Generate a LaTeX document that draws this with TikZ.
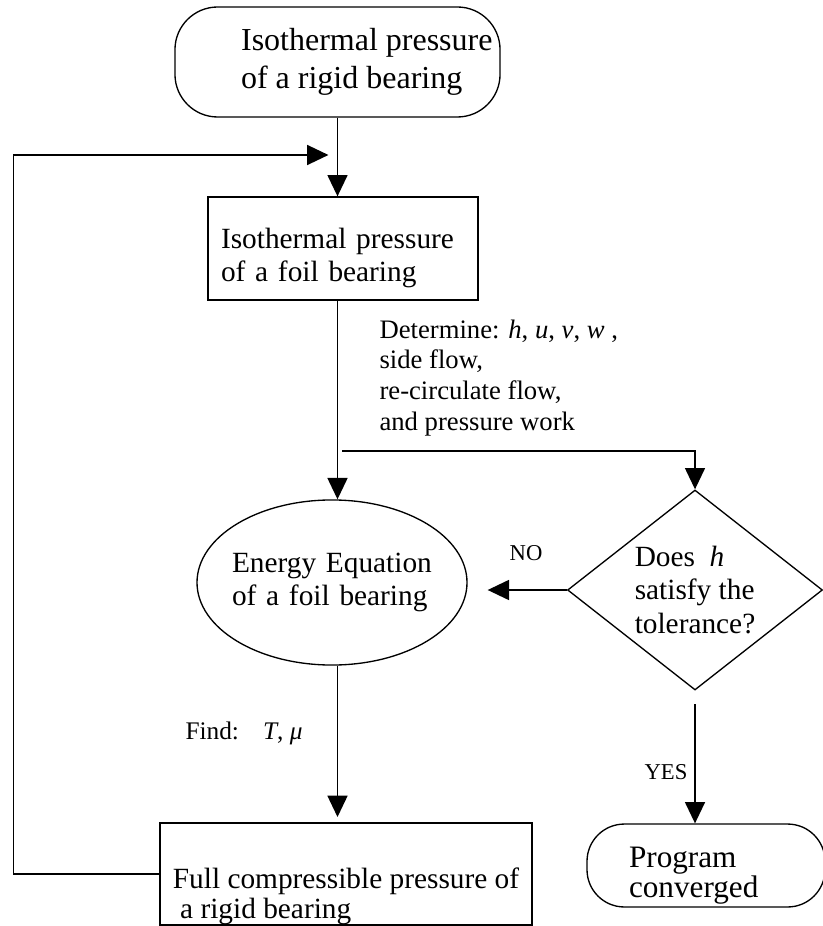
\documentclass[tikz,border=0pt]{standalone}
\usepackage{fontspec}
\setmainfont{Liberation Serif}
\usepackage{tikz}
\usetikzlibrary{shapes,arrows.meta,positioning}

\tikzset{
	arr/.style={line width=0.6pt, -{Triangle[length=8pt,width=7.5pt]}},
	terminal/.style={rectangle, draw, line width=0.5pt, rounded corners=16pt, inner sep=0pt, align=left},
	procbox/.style={rectangle, draw, line width=0.5pt, inner sep=0pt, align=left, font=\fontsize{11}{12.4}\selectfont},
	calcell/.style={ellipse, draw, line width=0.5pt, inner xsep=-2pt, inner ysep=0pt, align=left, font=\fontsize{11}{12.6}\selectfont},
	decision/.style={diamond, draw, line width=0.5pt, inner sep=0pt, shape aspect=1.275, align=left, font=\fontsize{11}{12.6}\selectfont},
	lbl/.style={inner sep=0pt, align=left, font=\fontsize{10}{11.6}\selectfont},
}

\begin{document}
\begin{tikzpicture}[x=0.375pt, y=-0.375pt]
				\useasboundingbox (0,0) rectangle (822,926);
				\node[terminal, minimum width=121.9pt, minimum height=41.25pt, font=\fontsize{12}{14.25}\selectfont] (start) at (337.5,62) {\hspace*{22pt}Isothermal pressure\\\hspace*{22pt}of a rigid bearing};
				\node[procbox, minimum width=101.25pt, minimum height=38.6pt, text width=91.5pt, text height=15pt] (foil) at (343,248.5) {Isothermal pressure\\of a foil bearing};
				\node[calcell, minimum width=101.25pt, minimum height=61.9pt, text width=75pt] (energy) at (332,582.5) {Energy Equation\\of a foil bearing};
				\node[decision, minimum width=95.6pt, minimum height=75pt] (check) at (695,590) {Does\ \ \textit{h}\\satisfy the\\tolerance?};
				\node[procbox, minimum width=139.5pt, minimum height=38.25pt, text height=35.5pt, text depth=2pt, font=\fontsize{11}{11.3}\selectfont] (full) at (346,874) {Full compressible pressure of\\\ a rigid bearing};
				\node[terminal, rounded corners=14pt, minimum width=89.25pt, minimum height=31.1pt, text width=57.75pt, text height=15.2pt, font=\fontsize{11.7}{11.3}\selectfont] (done) at (706,865.5) {Program\\converged};
				
				\coordinate (merge) at (337.5,155);
				\coordinate (split) at (342,451);
				
				\node[lbl, anchor=west] (detlbl) at (379,378) {Determine: \textit{h}, \textit{u}, \textit{v}, \textit{w} ,\\side flow,\\re-circulate flow,\\and pressure work};
				\node[lbl, font=\fontsize{8.5}{10}\selectfont] (nolbl) at (526,553) {NO};
				\node[lbl, font=\fontsize{8.5}{10}\selectfont] (yeslbl) at (666,772) {YES};
				\node[lbl, font=\fontsize{9.5}{11}\selectfont] (findlbl) at (244,733) {Find:\hspace{9pt}\textit{T}, \textit{μ}};
				
				\draw[arr] (start.south) -- (start.south |- foil.north);
				\draw[arr] (foil.south -| start.south) -- (energy.north -| start.south);
				\draw[arr] (split) -| (check.north);
				\draw[arr, shorten >=7.5pt] (check.west) -- (energy.east |- check.west);
				\draw[arr, shorten >=2pt] (energy.south -| start.south) -- (full.north -| start.south);
				\draw[arr, shorten <=5pt] (check.south) -- (check.south |- done.north);
				\draw[arr, shorten >=3.4pt] (full.west) -- ++(-146,0) |- (merge);
			\end{tikzpicture}
\end{document}
